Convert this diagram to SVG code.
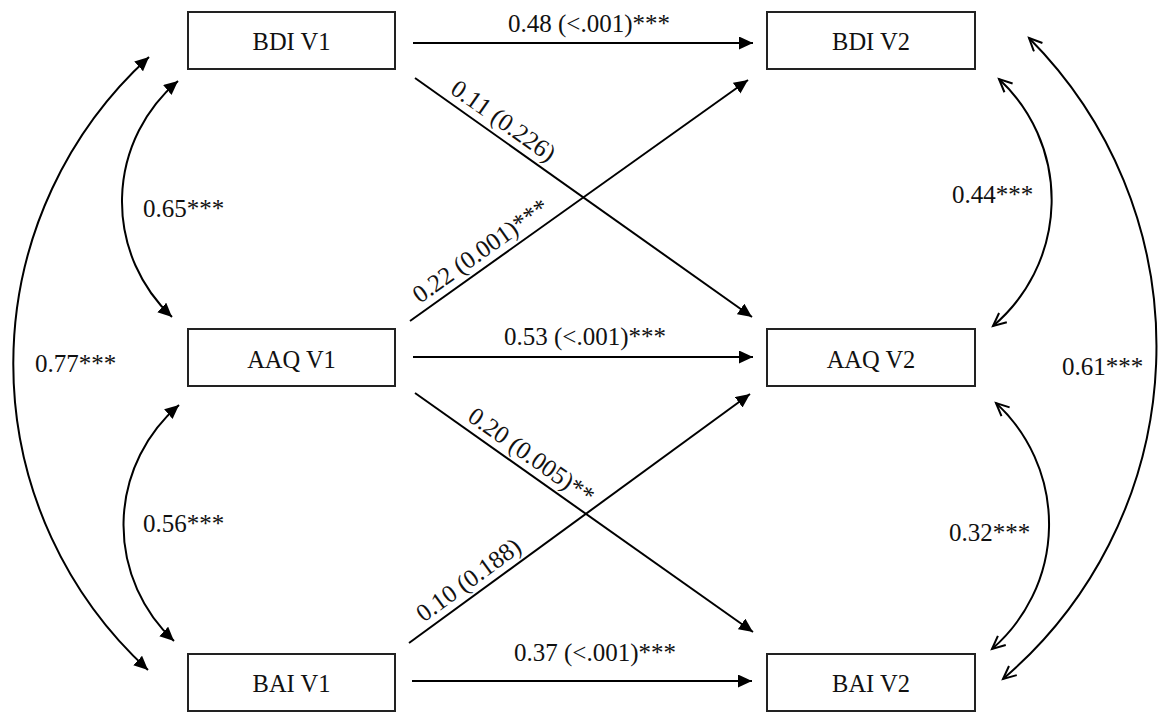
<svg xmlns="http://www.w3.org/2000/svg" width="1160" height="713" viewBox="0 0 1160 713">
<style>
.box{fill:#fff;stroke:#222;stroke-width:2}
.nt{font-family:"Liberation Serif","Times New Roman",serif;font-size:24.5px;fill:#111;text-anchor:middle}
.lb{font-family:"Liberation Serif","Times New Roman",serif;font-size:25px;fill:#111}
.ed{fill:none;stroke:#000;stroke-width:2}
.fa{marker-end:url(#fh)}
.fb{marker-start:url(#fh);marker-end:url(#fh)}
.ob{marker-start:url(#oh);marker-end:url(#oh)}
</style>
<defs>
<marker id="fh" markerUnits="userSpaceOnUse" markerWidth="16" markerHeight="14" refX="14" refY="6.5" orient="auto-start-reverse" viewBox="0 0 16 14">
<path d="M0,0 L14,6.5 L0,13 z" fill="#000"/>
</marker>
<marker id="oh" markerUnits="userSpaceOnUse" markerWidth="18" markerHeight="16" refX="14" refY="7" orient="auto-start-reverse" viewBox="0 0 18 16">
<path d="M1,1 L14,7 L1,13" fill="none" stroke="#000" stroke-width="2"/>
</marker>
</defs>
<g id="connectors">
<line class="ed fa" x1="413" y1="43" x2="753" y2="43"/>
<line class="ed fa" x1="413" y1="357" x2="753" y2="357"/>
<line class="ed fa" x1="412" y1="681" x2="752" y2="681"/>
<line class="ed fa" x1="415" y1="78" x2="752" y2="317"/>
<line class="ed fa" x1="410" y1="321" x2="748" y2="80"/>
<line class="ed fa" x1="415" y1="393" x2="753" y2="632"/>
<line class="ed fa" x1="409" y1="643" x2="750" y2="394"/>
<path class="ed fb" d="M178,81 A158,158 0 0 0 172,317"/>
<path class="ed fb" d="M179,405 A158,158 0 0 0 174,641"/>
<path class="ed fb" d="M149,57 A415,415 0 0 0 148,670"/>
<path class="ed ob" d="M999,79 A165,165 0 0 1 993,326"/>
<path class="ed ob" d="M996,403 A165,165 0 0 1 992,649"/>
<path class="ed ob" d="M1029,38 A437,437 0 0 1 1003,679"/>
<text class="lb" x="589" y="32" text-anchor="middle">0.48 (&lt;.001)***</text>
<text class="lb" x="585" y="345" text-anchor="middle">0.53 (&lt;.001)***</text>
<text class="lb" x="595" y="661" text-anchor="middle">0.37 (&lt;.001)***</text>
<text class="lb" text-anchor="middle" transform="translate(494,134) rotate(35.4)" y="-8">0.11 (0.226)</text>
<text class="lb" text-anchor="middle" transform="translate(490,264) rotate(-35.5)" y="-8">0.22 (0.001)***</text>
<text class="lb" text-anchor="middle" transform="translate(522,469) rotate(35.3)" y="-8">0.20 (0.005)**</text>
<text class="lb" text-anchor="middle" transform="translate(478,593) rotate(-36.1)" y="-8">0.10 (0.188)</text>
<text class="lb" x="143" y="217">0.65***</text>
<text class="lb" x="143" y="532">0.56***</text>
<text class="lb" x="35" y="372">0.77***</text>
<text class="lb" x="952" y="203">0.44***</text>
<text class="lb" x="949" y="541">0.32***</text>
<text class="lb" x="1062" y="375">0.61***</text>
</g>
<g id="bdi_v1"><rect class="box" x="188" y="12" width="207" height="57"/><text class="nt" x="291.5" y="50">BDI V1</text></g>
<g id="aaq_v1"><rect class="box" x="188" y="329" width="207" height="57"/><text class="nt" x="291.5" y="368">AAQ V1</text></g>
<g id="bai_v1"><rect class="box" x="188" y="654" width="207" height="57"/><text class="nt" x="291.5" y="692">BAI V1</text></g>
<g id="bdi_v2"><rect class="box" x="767" y="12" width="208" height="57"/><text class="nt" x="871" y="50">BDI V2</text></g>
<g id="aaq_v2"><rect class="box" x="767" y="329" width="208" height="57"/><text class="nt" x="871" y="368">AAQ V2</text></g>
<g id="bai_v2"><rect class="box" x="767" y="654" width="208" height="57"/><text class="nt" x="871" y="692">BAI V2</text></g>
</svg>
